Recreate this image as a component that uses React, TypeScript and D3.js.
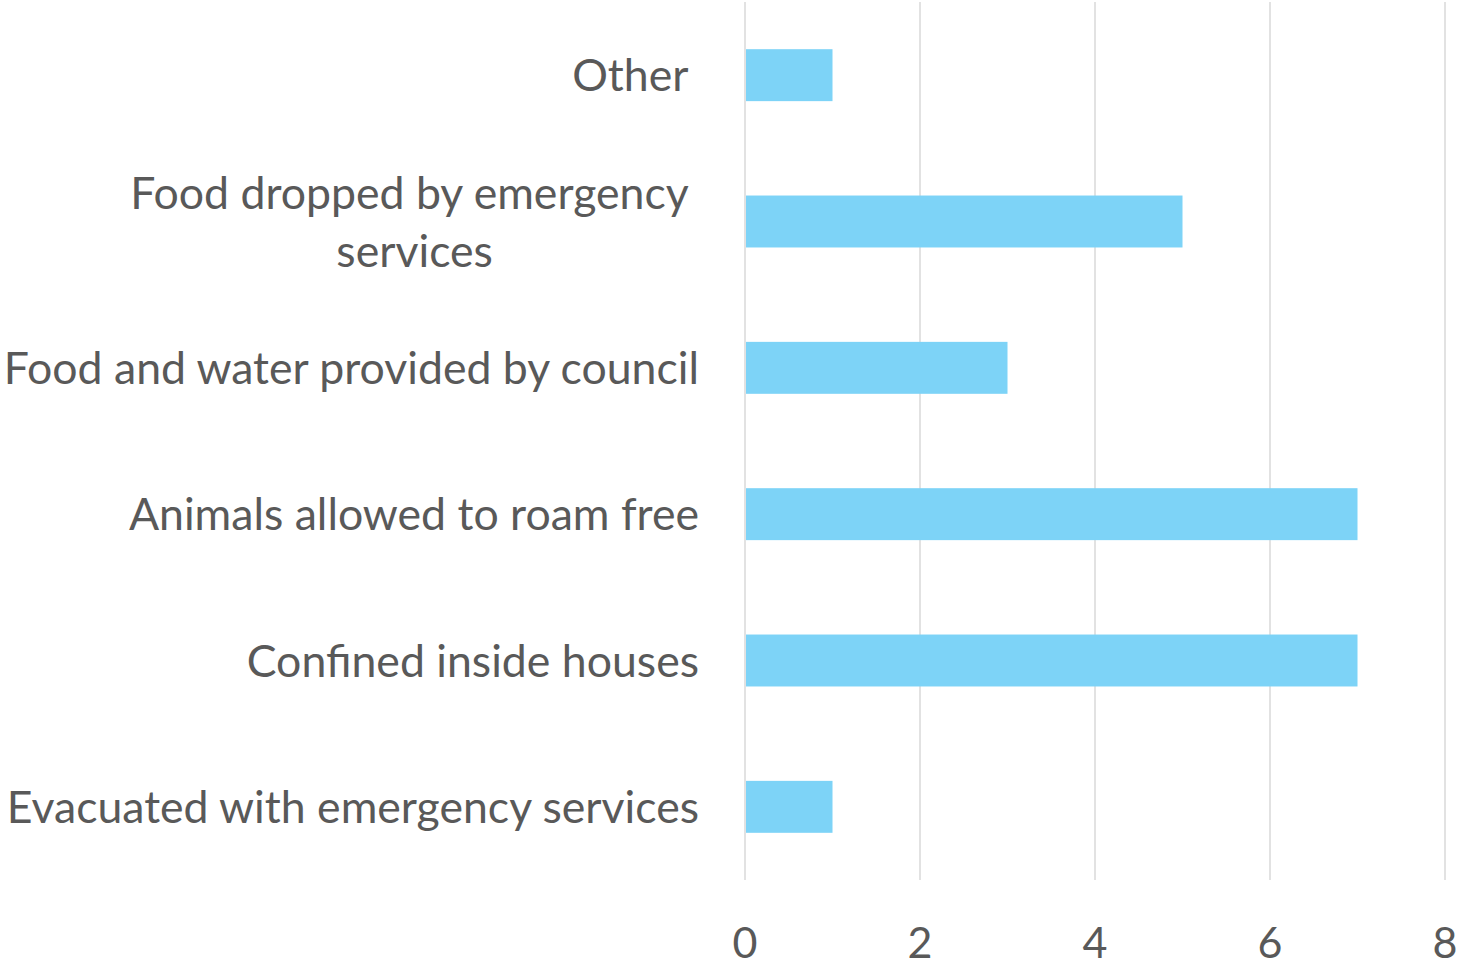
import React, { useEffect, useRef } from "react";
import * as d3 from "d3";

const categories: string[][] = [
  ["Other "],
  ["Food dropped by emergency ", "services"],
  ["Food and water provided by council"],
  ["Animals allowed to roam free"],
  ["Confined inside houses"],
  ["Evacuated with emergency services"],
];
const values: number[] = [1, 5, 3, 7, 7, 1];
const xTicks: number[] = [0, 2, 4, 6, 8];

const W = 1463;
const H = 966;
const FONT = "Lato, 'Open Sans', sans-serif";
const TEXT = "#595959";

export default function App() {
  const ref = useRef<SVGSVGElement>(null);
  useEffect(() => {
    const svg = d3.select(ref.current);
    svg.selectAll("*").remove();
    const x = d3.scaleLinear().domain([0, 8]).range([745, 1445]);
    const y = d3
      .scaleBand<number>()
      .domain(d3.range(categories.length))
      .range([2, 880])
      .paddingInner(0.645)
      .paddingOuter(0.3225);

    svg
      .append("g")
      .selectAll("line")
      .data(xTicks)
      .join("line")
      .attr("x1", (d) => x(d))
      .attr("x2", (d) => x(d))
      .attr("y1", 2)
      .attr("y2", 880)
      .attr("stroke", "#d9d9d9")
      .attr("stroke-width", 1.5);

    svg
      .append("g")
      .selectAll("rect")
      .data(values)
      .join("rect")
      .attr("x", x(0) + 1)
      .attr("y", (_, i) => y(i)!)
      .attr("width", (d) => x(d) - x(0) - 1)
      .attr("height", y.bandwidth())
      .attr("fill", "#7DD3F7");

    svg
      .append("g")
      .selectAll("text")
      .data(xTicks)
      .join("text")
      .attr("x", (d) => x(d))
      .attr("y", 958)
      .attr("text-anchor", "middle")
      .attr("font-family", FONT)
      .attr("font-size", 43)
      .attr("fill", TEXT)
      .text((d) => String(d));

    const right = 699;
    const lineH = 58;
    categories.forEach((lines, i) => {
      const cy = y(i)! + y.bandwidth() / 2;
      const g = svg.append("g");
      const texts = lines.map((ln, j) =>
        g
          .append("text")
          .attr("font-family", FONT)
          .attr("font-size", 44.6)
          .attr("fill", TEXT)
          .attr("xml:space", "preserve")
          .style("white-space", "pre")
          .attr("y", cy + 16 + (j - (lines.length - 1) / 2) * lineH)
          .text(ln)
      );
      const widths = texts.map((t) => (t.node() as SVGTextElement).getComputedTextLength());
      const maxW = Math.max(...widths);
      const center = right - maxW / 2;
      texts.forEach((t, j) => {
        if (lines.length === 1) {
          t.attr("text-anchor", "end").attr("x", right);
        } else {
          t.attr("text-anchor", "start").attr("x", center - widths[j] / 2);
        }
      });
    });
  }, []);
  return (
    <svg
      ref={ref}
      width={W}
      height={H}
      style={{ position: "absolute", left: 0, top: 0, background: "#fff" }}
    />
  );
}
